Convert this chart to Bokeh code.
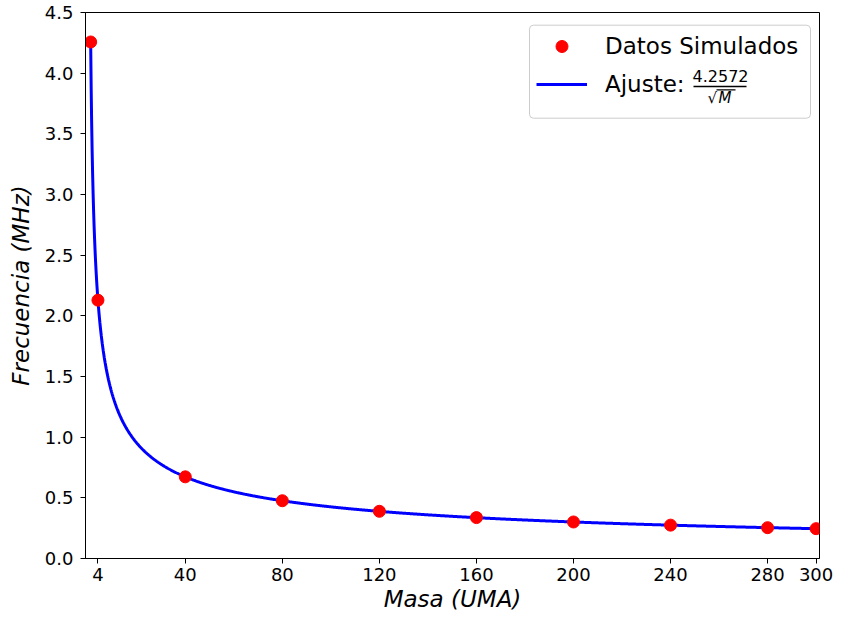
import numpy as np
from bokeh.plotting import figure
from bokeh.models import (Range1d, FixedTicker, NumeralTickFormatter, Legend, LegendItem,
                          BoxAnnotation, Label)
from bokeh.embed import file_html
from bokeh.resources import INLINE

# ---- data ----
masa = [1, 4, 40, 80, 120, 160, 200, 240, 280, 300]
frecuencia = [4.257, 2.129, 0.673, 0.476, 0.389, 0.337, 0.301, 0.275, 0.254, 0.246]
coef_ajuste = 4.2572
x_ticks = [4, 40, 80, 120, 160, 200, 240, 280, 300]
y_ticks = [0.0, 0.5, 1.0, 1.5, 2.0, 2.5, 3.0, 3.5, 4.0, 4.5]

x_fit = np.linspace(min(masa), max(masa), 1500)
y_fit = coef_ajuste / np.sqrt(x_fit)

FONT = "DejaVu Sans"
W, H = 833, 617
BL, BR, BT, BB = 85, 14, 12, 59
FW, FH = W - BL - BR, H - BT - BB

p = figure(width=W, height=H, output_backend="svg", toolbar_location=None,
           x_range=Range1d(-1.13, 301.4), y_range=Range1d(0, 4.5),
           min_border_left=BL, min_border_right=BR, min_border_top=BT, min_border_bottom=BB)
p.background_fill_color = "white"
p.border_fill_color = "white"
p.outline_line_color = "black"
p.outline_line_width = 1
p.xgrid.visible = False
p.ygrid.visible = False

line_r = p.line(x_fit, y_fit, line_color="#0000ff", line_width=3)
pts_r = p.scatter(masa, frecuencia, size=12, fill_color="#ff0000", line_color="#ff0000")

for ax in (p.xaxis[0], p.yaxis[0]):
    ax.axis_line_color = "black"
    ax.major_tick_line_color = "black"
    ax.major_tick_out = 5
    ax.major_tick_in = 0
    ax.minor_tick_line_color = None
    ax.major_label_text_font = FONT
    ax.major_label_text_font_size = "18px"
    ax.major_label_text_color = "black"
    ax.axis_label_text_font = FONT
    ax.axis_label_text_font_size = "23px"
    ax.axis_label_text_font_style = "italic"
    ax.axis_label_text_color = "black"

p.xaxis.ticker = FixedTicker(ticks=x_ticks)
p.yaxis.ticker = FixedTicker(ticks=y_ticks)
p.yaxis.formatter = NumeralTickFormatter(format="0.0")
p.xaxis.axis_label = "Masa (UMA)"
p.yaxis.axis_label = "Frecuencia (MHz)"
p.xaxis.major_label_standoff = 4
p.yaxis.major_label_standoff = 7
p.xaxis.axis_label_standoff = 2
p.yaxis.axis_label_standoff = 8

def box(l, r, t, b, **kw):
    return BoxAnnotation(left=l, right=r, top=t, bottom=b,
                         left_units="screen", right_units="screen",
                         top_units="screen", bottom_units="screen", **kw)

# legend frame
p.add_layout(box(444, 725, 533.3, 440.3, fill_color="white", fill_alpha=0.8,
                 line_color="#cccccc", line_width=1, line_alpha=1,
                 border_radius=4, level="annotation"))

legend = Legend(items=[LegendItem(label="Datos Simulados", renderers=[pts_r]),
                       LegendItem(label="Ajuste:", renderers=[line_r])],
                location=(451, 459.3), padding=0, margin=0, spacing=8,
                glyph_width=51, glyph_height=30, label_standoff=18,
                label_text_font=FONT, label_text_font_size="23px", label_text_color="black",
                border_line_alpha=0, background_fill_alpha=0)
p.add_layout(legend)

# fraction 4.2572 / sqrt(M)
p.add_layout(Label(x=635, y=482.8, x_units="screen", y_units="screen", text="4.2572",
                   text_align="center", text_baseline="middle",
                   text_font=FONT, text_font_size="16px", text_color="black"))
p.add_layout(box(608, 661, 472.7, 471.2, fill_color="black", fill_alpha=1, line_alpha=0))
p.add_layout(Label(x=622, y=461, x_units="screen", y_units="screen", text="\u221a",
                   text_align="left", text_baseline="middle",
                   text_font=FONT, text_font_size="15px", text_color="black"))
p.add_layout(Label(x=633, y=460.1, x_units="screen", y_units="screen", text="M",
                   text_align="left", text_baseline="middle",
                   text_font=FONT, text_font_size="15px", text_font_style="italic",
                   text_color="black"))
p.add_layout(box(631, 650, 469.3, 468.1, fill_color="black", fill_alpha=1, line_alpha=0))

open("out.html", "w").write(file_html(p, INLINE))
